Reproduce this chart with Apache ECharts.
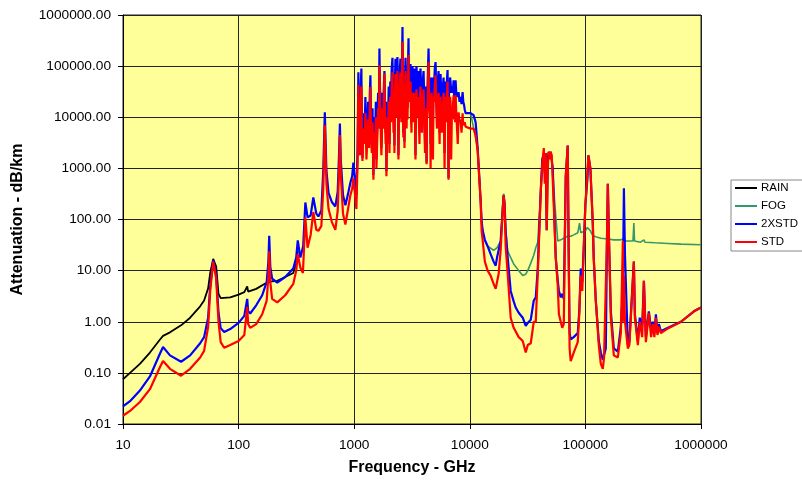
<!DOCTYPE html>
<html>
<head>
<meta charset="utf-8">
<script src="https://cdn.jsdelivr.net/npm/echarts@6/dist/echarts.min.js"></script>
<style>
html, body { margin: 0; padding: 0; background: #fff; }
#chart { width: 802px; height: 481px; }
</style>
</head>
<body>
<div id="chart"></div>
<script>
// Specific attenuation (dB/km) versus frequency (GHz), pairs of [GHz, dB/km]
const seriesNames = ['RAIN', 'FOG', '2XSTD', 'STD'];

const rain = [
  [10, 0.075], [11.5, 0.1], [14, 0.15], [17.1, 0.25], [20.9, 0.45], [22.2, 0.53],
  [25.5, 0.62], [31.8, 0.85], [38.1, 1.2], [46.5, 2.0], [50.3, 2.6], [54.5, 4.5],
  [56.8, 9], [60.3, 17], [64, 12], [67, 3.5], [70, 2.9], [84.6, 3.0], [100, 3.4],
  [112, 3.8], [118.7, 4.9], [121, 3.9], [142, 4.4], [170, 5.6], [195, 6.2],
  [216, 6.3], [253, 7.5], [297, 9], [315, 14], [325, 25]
];

const fog = [
  [10160, 12000], [11690, 2500], [12400, 240], [12650, 95], [12910, 55], [13500, 38],
  [14260, 30], [16080, 25], [17200, 28], [18490, 38], [19250, 200], [19630, 320],
  [20000, 220], [20430, 60], [21270, 24], [22580, 18], [23970, 13.5], [26490, 10],
  [28700, 8], [30470, 8.5], [31720, 10], [33680, 14], [35750, 20], [37210, 28],
  [38730, 36], [41120, 370], [42400, 1500], [43650, 1950], [44500, 800], [45430, 2000],
  [46300, 62], [47200, 1500], [48200, 2100], [49200, 1800], [50120, 2100], [51100, 2000],
  [52180, 1000], [53230, 400], [55400, 120], [57680, 38], [61230, 40], [65010, 43],
  [70310, 47], [74650, 47], [79250, 50], [85860, 55], [89000, 85], [91150, 55],
  [94000, 52], [100000, 60], [104000, 70], [110400, 60], [115900, 48], [123000, 46],
  [135900, 43], [150200, 42], [176200, 40], [202600, 40], [215300, 42], [223900, 38],
  [240000, 38], [258000, 38], [262500, 85], [266000, 38], [300000, 36], [320600, 40],
  [327000, 36], [400000, 35], [517600, 34], [671100, 33], [1000000, 32]
];

const std2x = [
  [10, 0.022], [11.5, 0.028], [14, 0.045], [17.1, 0.085], [20.9, 0.24], [22.2, 0.32],
  [25.5, 0.22], [31.8, 0.165], [38.1, 0.22], [46.5, 0.38], [50.3, 0.5], [54.5, 1.2],
  [56.8, 5], [60.3, 16], [64, 8], [67, 1.5], [70, 0.75], [75, 0.63], [84.6, 0.72],
  [100, 0.95], [112, 1.3], [118.7, 2.8], [121, 1.6], [126, 1.45], [142, 2.1], [160, 3.3],
  [175, 6], [181, 15], [184, 48], [188, 12], [195, 7], [216, 5.8], [253, 7.5], [297, 11],
  [315, 18], [325, 39], [342, 18], [362, 30], [378, 215], [395, 110], [420, 120],
  [443, 270], [470, 130], [490, 115], [520, 150], [540, 900], [557, 12500], [575, 900],
  [600, 330], [640, 220], [687, 180], [720, 350], [740, 2000], [752, 7500], [765, 1500],
  [800, 300], [839, 190], [880, 300], [927, 530], [960, 700], [984, 1300], [1010, 700],
  [1045, 300], [1070, 2500],
  [1087, 76000], [1100, 5000], [1120, 2500], [1135, 30000], [1154, 90000], [1165, 8000],
  [1179, 1600], [1200, 12000], [1230, 5000], [1250, 25000], [1276, 2500], [1300, 8000],
  [1320, 20000], [1345, 4000], [1365, 30000], [1381, 66000], [1400, 8000], [1420, 3000],
  [1440, 15000], [1466, 740], [1490, 10000], [1520, 5000], [1540, 20000], [1557, 1500],
  [1585, 8000], [1610, 30000], [1635, 10000], [1653, 220000], [1670, 40000], [1690, 20000],
  [1705, 6000], [1720, 2500], [1750, 30000], [1780, 10000], [1805, 40000], [1827, 80000],
  [1850, 15000], [1870, 5000], [1885, 20000], [1900, 880], [1930, 15000], [1960, 8000],
  [1990, 40000], [2018, 3000], [2050, 50000], [2080, 20000], [2110, 90000], [2143, 145000],
  [2165, 30000], [2190, 10000], [2210, 60000], [2229, 2800], [2250, 50000], [2275, 140000],
  [2300, 40000], [2320, 20000], [2345, 90000], [2366, 150000], [2390, 30000], [2414, 1800],
  [2440, 50000], [2460, 30000], [2485, 90000], [2512, 140000], [2535, 30000], [2560, 10000],
  [2590, 100000], [2617, 580000], [2640, 60000], [2660, 5000], [2680, 20000], [2700, 80000],
  [2722, 3300], [2750, 60000], [2780, 145000], [2810, 30000], [2840, 10000], [2865, 70000],
  [2892, 15000], [2920, 100000], [2950, 350000], [2980, 40000], [3010, 30000], [3040, 80000],
  [3070, 110000], [3100, 20000], [3130, 8000], [3160, 60000], [3193, 100000], [3225, 40000],
  [3260, 15000], [3290, 70000], [3323, 90000], [3355, 20000], [3390, 1800], [3420, 40000],
  [3457, 100000], [3490, 50000], [3530, 20000], [3560, 60000], [3597, 80000], [3630, 20000],
  [3670, 5000], [3710, 60000], [3748, 90000], [3800, 30000], [3860, 10000], [3920, 50000],
  [3981, 80000], [4040, 20000], [4100, 3000], [4160, 40000], [4227, 1300], [4260, 20000],
  [4300, 30000], [4350, 90000], [4397, 220000], [4450, 50000], [4500, 20000], [4540, 40000],
  [4580, 3000], [4620, 50000], [4668, 60000], [4730, 20000], [4800, 8000], [4850, 60000],
  [4900, 40000], [4980, 90000], [5058, 120000], [5130, 30000], [5200, 10000], [5280, 50000],
  [5370, 80000], [5420, 20000], [5480, 5000], [5530, 40000], [5588, 70000], [5670, 25000],
  [5760, 8000], [5850, 40000], [5933, 60000], [5990, 15000], [6050, 2000], [6110, 30000],
  [6171, 50000], [6240, 30000], [6300, 15000], [6360, 60000], [6421, 84000], [6480, 20000],
  [6547, 650], [6610, 40000], [6680, 30000], [6750, 60000], [6815, 50000], [6900, 30000],
  [7000, 40000], [7120, 30000], [7241, 53000], [7320, 25000], [7400, 30000], [7470, 20000],
  [7533, 53000], [7640, 30000], [7750, 30000], [7870, 25000], [7998, 31000], [8150, 20000],
  [8300, 25000], [8480, 18000], [8665, 31000], [8780, 20000], [8900, 18000], [9050, 14000],
  [9202, 12000], [9400, 12500], [9573, 11500],
  [10160, 12000], [10790, 11000], [11230, 8000], [11690, 2500], [12400, 240], [12650, 95],
  [12910, 62], [13500, 40], [14260, 30], [15140, 21], [16080, 15], [16740, 12.5],
  [17200, 18], [17770, 18], [18490, 38], [19250, 150], [19630, 300], [20000, 200],
  [20430, 60], [21270, 18], [22580, 4], [23970, 2.5], [24950, 1.9], [26490, 1.5],
  [28700, 1.2], [30470, 0.83], [31720, 0.95], [33680, 1.1], [35750, 2.6], [37210, 3],
  [38730, 11], [39520, 38], [41120, 370], [42400, 1500], [43650, 1950], [44500, 800],
  [45430, 2000], [46300, 62], [47200, 1500], [48200, 2100], [49200, 1800], [50120, 2100],
  [51100, 2000], [52180, 1000], [53230, 270], [55400, 18], [57680, 6.3], [59000, 4],
  [61230, 3], [63000, 3.5], [65010, 2.8], [67610, 700], [70310, 2800], [71500, 38],
  [73000, 0.6], [74650, 0.45], [79250, 0.5], [85860, 0.6], [88500, 1.6], [91150, 11],
  [94000, 6], [96770, 30], [100000, 200], [104000, 600], [106200, 1800], [110400, 1000],
  [115900, 83], [118000, 18], [123000, 2.6], [130600, 0.42], [135900, 0.25], [141500, 0.18],
  [150200, 0.3], [154000, 53], [156300, 500], [160000, 40], [166000, 1.6], [176200, 0.3],
  [190800, 0.26], [202600, 0.8], [210900, 4], [215300, 410], [220000, 20], [232900, 0.35],
  [240000, 0.4], [247300, 1.4], [262500, 15], [268000, 1.4], [284300, 0.42], [295000, 1.2],
  [310000, 0.8], [320600, 6.3], [333500, 0.5], [354000, 1.6], [370000, 0.7], [383700, 1.0],
  [395000, 0.6], [407400, 1.4], [420000, 0.6], [432500, 0.9], [449800, 0.65], [517600, 0.76],
  [671100, 1.0], [869200, 1.6], [1000000, 1.9]
];

const std = [
  [10, 0.0145], [11.5, 0.018], [14, 0.027], [17.1, 0.048], [20.9, 0.13], [22.2, 0.17],
  [25.5, 0.12], [31.8, 0.088], [38.1, 0.12], [46.5, 0.2], [50.3, 0.27], [54.5, 0.8],
  [56.8, 4], [60.3, 15], [64, 7], [67, 1], [70, 0.4], [75, 0.31], [84.6, 0.35], [100, 0.42],
  [112, 0.55], [118.7, 1.95], [121, 0.9], [126, 0.76], [142, 0.9], [160, 1.4], [175, 2.6],
  [181, 8], [184, 24], [188, 6], [195, 2.8], [216, 2.4], [253, 3.3], [297, 5.5], [315, 10],
  [325, 21], [342, 11.5], [360, 9], [378, 110], [395, 28], [420, 50], [443, 140], [470, 63],
  [490, 60], [520, 75], [540, 400], [557, 7000], [575, 500], [600, 160], [640, 90],
  [687, 63], [720, 150], [740, 1000], [752, 4500], [765, 800], [800, 130], [839, 80],
  [880, 150], [927, 300], [960, 400], [984, 650], [1010, 350], [1045, 160], [1070, 1500],
  [1087, 43000], [1100, 3000], [1120, 1800], [1135, 15000], [1154, 40000], [1165, 5000],
  [1179, 1400], [1200, 6000], [1230, 3000], [1250, 12000], [1276, 1500], [1300, 4000],
  [1320, 9000], [1345, 2500], [1365, 15000], [1381, 39000], [1400, 4000], [1420, 2000],
  [1440, 8000], [1466, 600], [1490, 5000], [1520, 3000], [1540, 10000], [1557, 1000],
  [1585, 4000], [1610, 15000], [1635, 6000], [1653, 104000], [1670, 20000], [1690, 10000],
  [1705, 3000], [1720, 1800], [1750, 15000], [1780, 6000], [1805, 25000], [1827, 72000],
  [1850, 8000], [1870, 3000], [1885, 10000], [1900, 700], [1930, 8000], [1960, 5000],
  [1990, 20000], [2018, 2000], [2050, 25000], [2080, 8000], [2110, 40000], [2143, 76000],
  [2165, 15000], [2190, 5000], [2210, 30000], [2229, 2000], [2250, 25000], [2275, 70000],
  [2300, 20000], [2320, 10000], [2345, 45000], [2366, 80000], [2390, 15000], [2414, 1500],
  [2440, 25000], [2460, 20000], [2485, 45000], [2512, 75000], [2535, 15000], [2560, 8000],
  [2590, 50000], [2617, 300000], [2640, 30000], [2660, 4000], [2680, 12000], [2700, 40000],
  [2722, 2500], [2750, 30000], [2780, 80000], [2810, 15000], [2840, 6000], [2865, 35000],
  [2892, 9000], [2920, 50000], [2950, 165000], [2980, 20000], [3010, 20000], [3040, 40000],
  [3070, 50000], [3100, 10000], [3130, 5000], [3160, 30000], [3193, 30000], [3225, 15000],
  [3260, 8000], [3290, 30000], [3323, 28000], [3355, 10000], [3390, 1500], [3420, 15000],
  [3457, 35000], [3490, 20000], [3530, 10000], [3560, 25000], [3597, 25000], [3630, 8000],
  [3670, 3000], [3710, 25000], [3748, 40000], [3800, 15000], [3860, 5000], [3920, 20000],
  [3981, 35000], [4040, 10000], [4100, 2000], [4160, 15000], [4227, 1200], [4260, 10000],
  [4300, 15000], [4350, 50000], [4397, 120000], [4450, 25000], [4500, 10000], [4540, 15000],
  [4580, 1000], [4620, 20000], [4668, 30000], [4730, 10000], [4800, 1500], [4850, 25000],
  [4900, 20000], [4980, 40000], [5058, 66000], [5130, 15000], [5200, 6000], [5280, 20000],
  [5370, 30000], [5420, 10000], [5480, 3000], [5530, 15000], [5588, 25000], [5670, 10000],
  [5760, 5000], [5850, 15000], [5933, 30000], [5990, 8000], [6050, 1000], [6110, 12000],
  [6171, 25000], [6240, 12000], [6300, 8000], [6360, 30000], [6421, 50000], [6480, 8000],
  [6547, 600], [6610, 15000], [6680, 15000], [6750, 25000], [6815, 20000], [6900, 1500],
  [7000, 12000], [7120, 15000], [7241, 27000], [7320, 9000], [7400, 12000], [7470, 8000],
  [7533, 27000], [7640, 12000], [7750, 13000], [7870, 3000], [7998, 12500], [8150, 8000],
  [8300, 9000], [8480, 5000], [8665, 12000], [8780, 7000], [8900, 7000], [9050, 8000],
  [9202, 6500], [9400, 6500], [9573, 6300],
  [10160, 6000], [10790, 6000], [11230, 4500], [11690, 2200], [12400, 240], [12650, 60],
  [12910, 40], [13500, 15], [14260, 10], [15140, 8], [16080, 5.5], [16740, 4.4],
  [17200, 6], [17770, 8.7], [18490, 25], [19250, 150], [19630, 300], [20000, 180],
  [20430, 30], [21270, 8.7], [22580, 1.2], [23970, 0.76], [26490, 0.5], [28700, 0.42],
  [30470, 0.25], [31720, 0.35], [33680, 0.38], [35750, 1.0], [37210, 1.0], [38730, 8.7],
  [39520, 30], [41120, 370], [42400, 1200], [43650, 2500], [44500, 500], [45430, 2000],
  [46300, 62], [47200, 1000], [48200, 2100], [49200, 1500], [50120, 2100], [51100, 1800],
  [52180, 600], [53230, 200], [55400, 18], [57680, 5], [59000, 1.4], [61230, 1.0],
  [63000, 0.76], [65010, 0.9], [67610, 700], [70310, 2800], [71500, 38], [73000, 0.3],
  [74650, 0.17], [79250, 0.25], [85860, 0.4], [88500, 1.4], [91150, 8], [94000, 4],
  [96770, 25], [100000, 200], [104000, 800], [106200, 1800], [110400, 1000], [115900, 83],
  [118000, 18], [123000, 2.6], [130600, 0.35], [135900, 0.15], [141500, 0.12], [145000, 0.2],
  [150200, 0.2], [154000, 53], [156300, 500], [160000, 40], [166000, 1.2], [176200, 0.22],
  [190800, 0.2], [202600, 0.6], [210900, 38], [213000, 1], [215300, 8], [220000, 1],
  [232900, 0.3], [240000, 0.35], [247300, 1.2], [262500, 15], [268000, 1.2], [284300, 0.35],
  [295000, 1.0], [310000, 0.5], [320600, 6.3], [333500, 0.4], [354000, 1.5], [370000, 0.5],
  [383700, 0.9], [395000, 0.5], [407400, 1.2], [420000, 0.55], [432500, 0.8], [449800, 0.6],
  [517600, 0.74], [671100, 1.0], [869200, 1.6], [1000000, 1.9]
];

const seriesData = [rain, fog, std2x, std];
const seriesColors = ['#000000', '#339966', '#0000FF', '#FF0000'];
const seriesWidths = [1.8, 1.6, 2.2, 2.2];

const FONT = '"Liberation Sans", Arial, sans-serif';
const chart = echarts.init(document.getElementById('chart'));

chart.setOption({
  animation: false,
  backgroundColor: '#ffffff',
  textStyle: { fontFamily: FONT, color: '#000' },
  grid: {
    left: 123, right: 101, top: 15, bottom: 57,
    show: true, backgroundColor: '#FFFF99',
    borderColor: '#222', borderWidth: 1
  },
  legend: {
    orient: 'vertical',
    left: 731, top: 180,
    padding: [1, 10, 2, 4],
    itemGap: 4,
    itemWidth: 22,
    itemHeight: 2,
    icon: 'rect',
    backgroundColor: '#ffffff',
    borderColor: '#888',
    borderWidth: 1,
    borderRadius: 0,
    textStyle: { fontFamily: FONT, fontSize: 11.5, color: '#000', lineHeight: 14, padding: [0, 0, 0, -1] },
    data: seriesNames
  },
  xAxis: {
    type: 'log', logBase: 10, min: 10, max: 1000000,
    name: 'Frequency - GHz', nameLocation: 'middle', nameGap: 36,
    nameTextStyle: { fontFamily: FONT, fontSize: 16, fontWeight: 'bold', color: '#000' },
    axisLine: { show: true, onZero: false, lineStyle: { color: '#000', width: 1 } },
    axisTick: { show: true, length: 5, lineStyle: { color: '#000' } },
    axisLabel: {
      fontFamily: FONT, fontSize: 13.7, color: '#000', margin: 14,
      showMinLabel: true, showMaxLabel: true,
      formatter: v => String(Math.round(v))
    },
    splitLine: { show: true, lineStyle: { color: '#222', width: 1 } }
  },
  yAxis: {
    type: 'log', logBase: 10, min: 0.01, max: 1000000,
    name: 'Attenuation - dB/km', nameLocation: 'middle', nameGap: 97, nameRotate: 90,
    nameTextStyle: { fontFamily: FONT, fontSize: 16, fontWeight: 'bold', color: '#000' },
    axisLine: { show: true, lineStyle: { color: '#000', width: 1 } },
    axisTick: { show: true, length: 5, lineStyle: { color: '#000' } },
    axisLabel: {
      fontFamily: FONT, fontSize: 13.7, color: '#000', margin: 12,
      showMinLabel: true, showMaxLabel: true,
      formatter: v => Number(v).toFixed(2)
    },
    splitLine: { show: true, lineStyle: { color: '#222', width: 1 } }
  },
  series: seriesNames.map((name, i) => ({
    name,
    type: 'line',
    data: seriesData[i],
    symbol: 'none',
    showSymbol: false,
    smooth: false,
    clip: true,
    color: seriesColors[i],
    lineStyle: { color: seriesColors[i], width: seriesWidths[i] },
    z: 2 + i
  }))
});
</script>
</body>
</html>
